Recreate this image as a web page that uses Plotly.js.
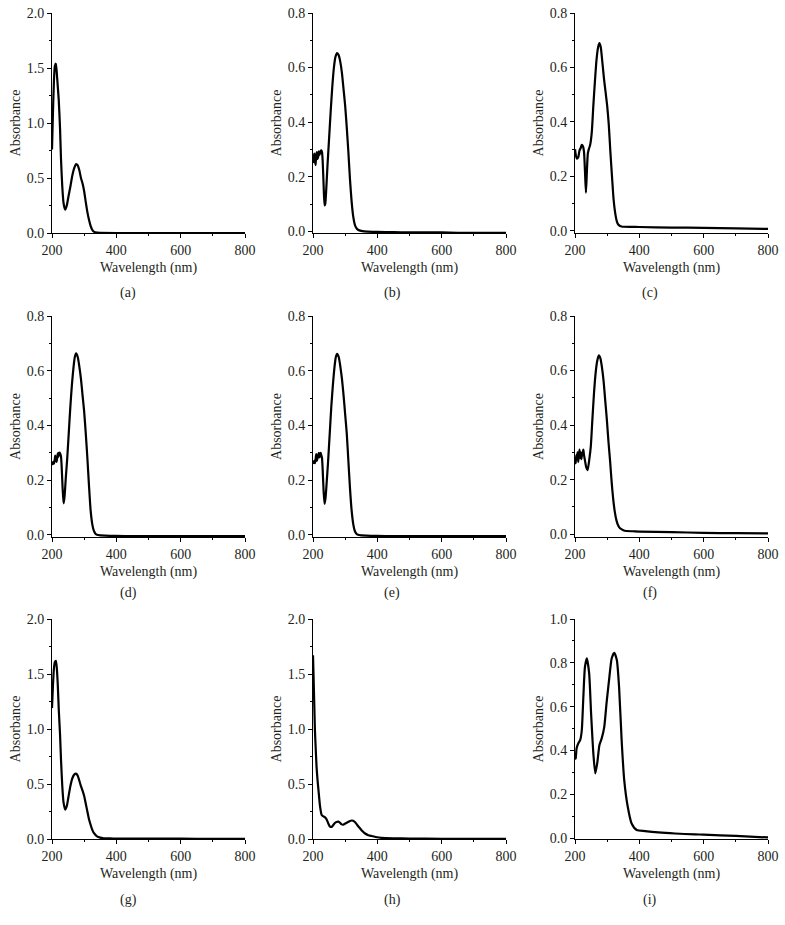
<!DOCTYPE html>
<html>
<head>
<meta charset="utf-8">
<script src="https://cdn.plot.ly/plotly-3.0.1.min.js"></script>
<style>
html,body{margin:0;padding:0;background:#fff;}
#chart{width:785px;height:925px;}
</style>
</head>
<body>
<div id="chart"></div>
<script>
// ---------- DATA ----------
const panelLabels = ["(a)","(b)","(c)","(d)","(e)","(f)","(g)","(h)","(i)"];
const xTickVals = [200, 400, 600, 800];

const wl_a = [200,203,206,209,212,215,218,221,225,228,232,236,241,246,251,257,263,269,275,280,285,290,295,300,305,310,315,320,325,330,340,350,400,500,600,700,800];
const abs_a = [0.76,1.10,1.38,1.52,1.54,1.45,1.33,1.21,0.95,0.67,0.42,0.27,0.212,0.25,0.33,0.42,0.52,0.59,0.627,0.615,0.57,0.50,0.45,0.38,0.28,0.19,0.12,0.065,0.03,0.012,0.003,0.001,0.0,0.0,0.0,0.0,0.0];

const wl_b = [200,202,204,206,208,210,212,214,216,218,220,222,224,226,228,230,233,236,238,241,245,250,255,260,265,270,275,280,285,290,295,300,305,310,315,320,325,330,335,340,350,370,400,450,500,550,600,650,700,750,800];
const abs_b = [0.25,0.27,0.285,0.26,0.243,0.28,0.29,0.265,0.272,0.293,0.28,0.287,0.295,0.297,0.29,0.26,0.17,0.095,0.10,0.15,0.24,0.34,0.44,0.53,0.60,0.64,0.653,0.645,0.62,0.58,0.52,0.46,0.38,0.29,0.19,0.11,0.055,0.025,0.012,0.006,0.002,-0.001,-0.002,-0.003,-0.004,-0.004,-0.004,-0.005,-0.005,-0.005,-0.005];

const wl_c = [200,203,206,210,214,218,221,225,228,231,234,237,240,243,247,252,257,262,267,272,276,280,285,290,295,300,305,310,315,320,325,330,335,340,345,350,400,500,600,700,800];
const abs_c = [0.30,0.275,0.265,0.27,0.295,0.305,0.316,0.31,0.29,0.22,0.14,0.22,0.285,0.30,0.315,0.36,0.46,0.55,0.63,0.675,0.689,0.675,0.62,0.56,0.51,0.46,0.39,0.29,0.20,0.115,0.065,0.035,0.022,0.018,0.016,0.015,0.014,0.012,0.011,0.009,0.007];

const wl_d = [200,202,204,206,208,210,212,214,216,218,220,222,224,226,228,230,233,236,239,243,247,252,257,262,267,271,275,280,285,290,295,300,305,310,315,320,325,330,335,340,350,400,450,500,600,700,800];
const abs_d = [0.255,0.262,0.267,0.26,0.27,0.29,0.275,0.267,0.28,0.298,0.285,0.30,0.30,0.295,0.286,0.25,0.17,0.115,0.14,0.21,0.274,0.37,0.468,0.55,0.614,0.65,0.663,0.65,0.615,0.57,0.51,0.45,0.37,0.28,0.18,0.09,0.04,0.015,0.004,0.0,-0.002,-0.004,-0.005,-0.005,-0.005,-0.005,-0.005];

const wl_e = [200,202,204,206,208,210,212,214,216,218,220,222,224,226,228,230,233,236,239,243,247,252,257,262,267,271,275,280,285,290,295,300,305,310,315,320,325,330,335,340,350,400,450,500,600,700,800];
const abs_e = [0.26,0.265,0.27,0.262,0.275,0.295,0.27,0.28,0.29,0.30,0.283,0.295,0.30,0.29,0.28,0.24,0.16,0.113,0.135,0.20,0.27,0.37,0.47,0.55,0.615,0.65,0.662,0.65,0.615,0.57,0.51,0.44,0.37,0.27,0.17,0.09,0.04,0.014,0.004,0.0,-0.002,-0.004,-0.005,-0.005,-0.005,-0.005,-0.005];

const wl_f = [200,202,204,206,208,210,212,214,216,218,220,222,224,226,228,231,235,239,244,249,254,259,264,269,274,279,284,289,294,299,304,309,314,319,324,329,334,340,350,360,380,400,500,600,700,800];
const abs_f = [0.272,0.26,0.29,0.275,0.30,0.265,0.29,0.31,0.28,0.30,0.275,0.295,0.30,0.31,0.29,0.27,0.245,0.235,0.27,0.32,0.42,0.516,0.59,0.635,0.656,0.645,0.61,0.56,0.49,0.42,0.34,0.27,0.19,0.126,0.08,0.05,0.033,0.022,0.015,0.012,0.011,0.01,0.008,0.005,0.004,0.003];

const wl_g = [200,203,206,209,212,215,218,221,225,228,232,236,241,246,251,257,263,269,275,280,285,290,295,300,305,310,315,320,325,330,340,350,360,380,400,500,600,700,800];
const abs_g = [1.19,1.40,1.55,1.61,1.62,1.55,1.40,1.18,0.95,0.72,0.48,0.33,0.267,0.30,0.38,0.48,0.55,0.585,0.594,0.575,0.53,0.48,0.44,0.39,0.32,0.25,0.18,0.13,0.085,0.055,0.024,0.012,0.007,0.005,0.004,0.003,0.003,0.002,0.002];

const wl_h = [200,202,204,206,208,211,214,217,222,227,230,234,238,242,247,253,258,263,268,273,279,284,289,294,299,305,310,315,320,325,331,338,346,354,362,372,382,395,413,450,500,600,700,800];
const abs_h = [1.67,1.45,1.22,0.99,0.85,0.66,0.54,0.445,0.294,0.218,0.21,0.203,0.195,0.18,0.145,0.112,0.11,0.127,0.145,0.155,0.158,0.148,0.133,0.13,0.138,0.148,0.156,0.164,0.168,0.165,0.152,0.125,0.097,0.07,0.05,0.035,0.027,0.018,0.01,0.006,0.004,0.002,0.001,0.001];

const wl_i = [200,202,205,210,216,221,226,231,237,244,250,257,263,269,276,283,291,298,307,314,322,330,337,345,353,364,376,392,418,459,511,573,600,700,800];
const abs_i = [0.36,0.364,0.41,0.432,0.447,0.49,0.645,0.782,0.82,0.752,0.57,0.387,0.295,0.341,0.425,0.455,0.508,0.615,0.737,0.82,0.846,0.813,0.69,0.447,0.265,0.143,0.067,0.037,0.032,0.026,0.021,0.017,0.016,0.01,0.003];

const yRanges = [[0,2],[-0.006,0.8],[-0.008,0.8],[-0.008,0.8],[-0.008,0.8],[-0.01,0.8],[0,2],[0,2],[-0.004,1]];
const yDticks = [0.5,0.2,0.2,0.2,0.2,0.2,0.5,0.5,0.2];

// ---------- LAYOUT ----------
const W = 785, H = 925;
const colPx = [[52,245],[313,506],[575,768]];
const rowPx = [[13,233],[316,537],[619,839]];
const labelY = [293,593,900];
const labelX = [128,392,650];

const series = [[wl_a,abs_a],[wl_b,abs_b],[wl_c,abs_c],[wl_d,abs_d],[wl_e,abs_e],[wl_f,abs_f],[wl_g,abs_g],[wl_h,abs_h],[wl_i,abs_i]];

const font = {family:"Liberation Serif", size:14, color:"#231f20"};
const data = [];
const layout = {
  width:W, height:H, margin:{l:0,r:0,t:0,b:0},
  paper_bgcolor:"#fff", plot_bgcolor:"#fff",
  showlegend:false, font:font, annotations:[]
};

for (let k=0;k<9;k++){
  const r = Math.floor(k/3), c = k%3;
  const xa = k===0 ? "xaxis" : "xaxis"+(k+1);
  const ya = k===0 ? "yaxis" : "yaxis"+(k+1);
  const xr = k===0 ? "x" : "x"+(k+1);
  const yr = k===0 ? "y" : "y"+(k+1);
  data.push({
    x: series[k][0], y: series[k][1], xaxis:xr, yaxis:yr,
    type:"scatter", mode:"lines",
    line:{color:"#000", width:2.2, shape:"spline", smoothing:0.6},
    hoverinfo:"skip"
  });
  layout[xa] = {
    domain:[colPx[c][0]/W, colPx[c][1]/W], anchor:yr,
    range:[200,800], tickvals:xTickVals, ticks:"outside", ticklen:4, tickwidth:1, tickcolor:"#000",
    minor:{dtick:100, ticks:"outside", ticklen:2, tickcolor:"#000", showgrid:false},
    showline:true, linecolor:"#000", linewidth:1, showgrid:false, zeroline:false,
    tickfont:font, title:{text:"Wavelength (nm)", font:font, standoff:5}
  };
  layout[ya] = {
    domain:[1-rowPx[r][1]/H, 1-rowPx[r][0]/H], anchor:xr,
    range:yRanges[k], tick0:0, dtick:yDticks[k], tickformat:".1f",
    ticks:"outside", ticklen:4, tickwidth:1, tickcolor:"#000",
    minor:{dtick:yDticks[k]/2, tick0:0, ticks:"outside", ticklen:2, tickcolor:"#000", showgrid:false},
    showline:true, linecolor:"#000", linewidth:1, showgrid:false, zeroline:false,
    tickfont:font, title:{text:"Absorbance", font:font, standoff:2}
  };
  layout.annotations.push({
    text: panelLabels[k], xref:"paper", yref:"paper",
    x: labelX[c]/W, y: 1-labelY[r]/H, xanchor:"center", yanchor:"middle",
    showarrow:false, font:font
  });
}

Plotly.newPlot("chart", data, layout, {staticPlot:true, displayModeBar:false});
</script>
</body>
</html>
